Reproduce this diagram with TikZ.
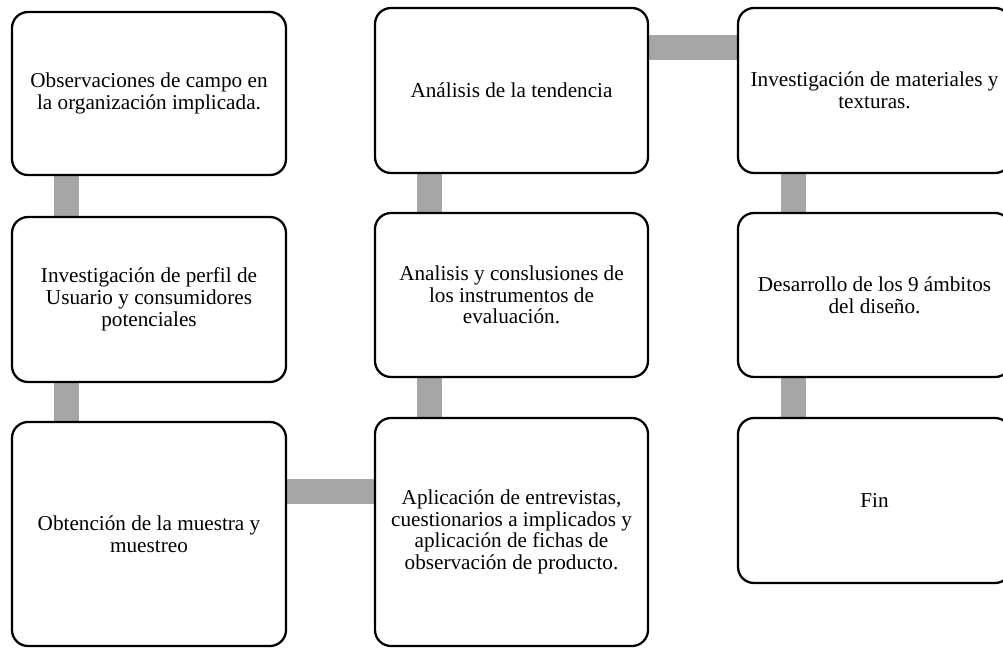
\documentclass[tikz,border=0pt]{standalone}
\usepackage{fontspec}
\setmainfont{Liberation Serif}
\usetikzlibrary{backgrounds}
\definecolor{bargray}{HTML}{A6A6A6}
\begin{document}
\begin{tikzpicture}[x=0.75pt,y=-0.75pt,
  box/.style={draw=black, line width=1.7pt, rounded corners=12pt, fill=white,
    align=center, inner sep=0pt, font=\fontsize{15.9pt}{16.3pt}\selectfont},
  wideA/.style={minimum width=205.5pt},
  wideB/.style={minimum width=204.75pt},
  bar/.style={draw=bargray, line width=18.75pt}]
\path[use as bounding box, clip] (0,0) rectangle (1003,647);
% column 1
\node[box, wideA, minimum height=122.25pt] (b1) at (149,93.5) {Observaciones de campo en\\la organización implicada.};
\node[box, wideA, minimum height=123.75pt] (b2) at (149,299.5) {Investigación de perfil de\\Usuario y consumidores\\potenciales};
\node[box, wideA, minimum height=168pt] (b3) at (149,534) {Obtención de la muestra y\\muestreo};
% column 2
\node[box, wideB, minimum height=123.75pt] (a1) at (511.5,90.5) {Análisis de la tendencia};
\node[box, wideB, minimum height=123pt] (a2) at (511.5,295) {Analisis y conslusiones de\\los instrumentos de\\evaluación.};
\node[box, wideB, minimum height=171pt] (a3) at (511.5,532) {Aplicación de entrevistas,\\cuestionarios a implicados y\\aplicación de fichas de\\observación de producto.};
% column 3
\node[box, wideB, minimum height=123.75pt] (x1) at (874.5,90.5) {Investigación de materiales y\\texturas.};
\node[box, wideB, minimum height=123pt] (x2) at (874.5,295) {Desarrollo de los 9 ámbitos\\del diseño.};
\node[box, wideB, minimum height=123.75pt] (x3) at (874.5,500.5) {Fin};
\coordinate (h1) at ([yshift=-53pt]b3.north east);
\coordinate (h2) at ([yshift=-30.4pt]a1.north east);
\begin{pgfonlayer}{background}
\draw[bar] ([xshift=41.6pt]b1.south west) -- ([xshift=41.6pt]b2.north west);
\draw[bar] ([xshift=41.6pt]b2.south west) -- ([xshift=41.6pt]b3.north west);
\draw[bar] (h1) -- (h1 -| a3.west);
\draw[bar] ([xshift=42pt]a3.north west) -- ([xshift=42pt]a2.south west);
\draw[bar] ([xshift=42pt]a2.north west) -- ([xshift=42pt]a1.south west);
\draw[bar] (h2) -- (h2 -| x1.west);
\draw[bar] ([xshift=42.4pt]x1.south west) -- ([xshift=42.4pt]x2.north west);
\draw[bar] ([xshift=42.4pt]x2.south west) -- ([xshift=42.4pt]x3.north west);
\end{pgfonlayer}
\end{tikzpicture}
\end{document}
